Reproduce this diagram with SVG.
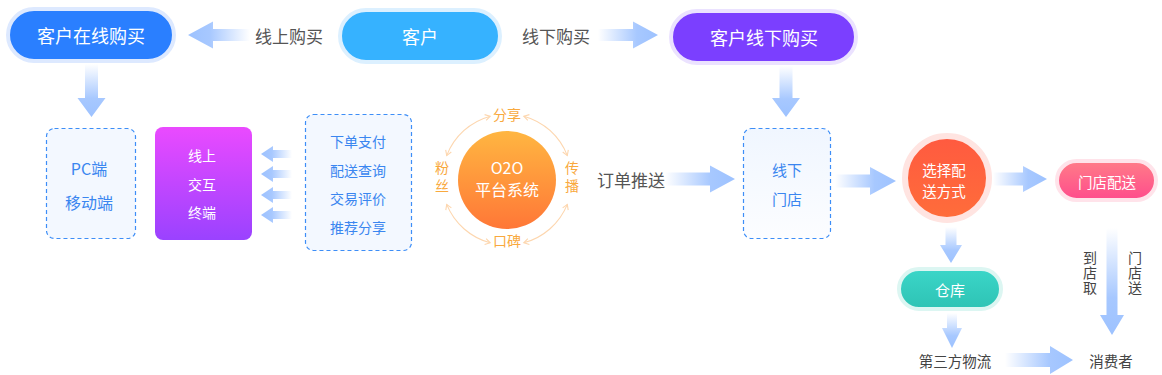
<svg xmlns="http://www.w3.org/2000/svg" width="1162" height="375" viewBox="0 0 1162 375">
<style>
text{font-family:"Noto Sans CJK SC","Noto Sans",sans-serif;dominant-baseline:central;text-anchor:middle}
.w{fill:#fff}
.lbl{fill:#555;font-size:17px}
.lbl2{fill:#444;font-size:14.5px}
.vert{fill:#444;font-size:14px;writing-mode:vertical-rl;letter-spacing:1px}
.blue{fill:#3a86f0}
.dash{fill:#f3f8ff;stroke:#3d8ef7;stroke-width:1.2;stroke-dasharray:4 3}
.ring{fill:none;stroke:#fdd6ae;stroke-width:1.1;marker-start:url(#chev);marker-end:url(#chev)}
.or{fill:#f9a93e;font-size:14px}
.ar{fill:url(#gr)}
.al{fill:url(#gl)}
.ad{fill:url(#gd)}
</style>
<defs>
<linearGradient id="gr" x1="0" y1="0" x2="1" y2="0"><stop offset="0" stop-color="#a7c8ff" stop-opacity="0"/><stop offset="0.65" stop-color="#a7c8ff"/><stop offset="1" stop-color="#9dc2ff"/></linearGradient>
<linearGradient id="gl" x1="1" y1="0" x2="0" y2="0"><stop offset="0" stop-color="#a7c8ff" stop-opacity="0"/><stop offset="0.65" stop-color="#a7c8ff"/><stop offset="1" stop-color="#9dc2ff"/></linearGradient>
<linearGradient id="gd" x1="0" y1="0" x2="0" y2="1"><stop offset="0" stop-color="#a7c8ff" stop-opacity="0"/><stop offset="0.65" stop-color="#a7c8ff"/><stop offset="1" stop-color="#9dc2ff"/></linearGradient>
<linearGradient id="gpurple" x1="0" y1="0" x2="0" y2="1"><stop offset="0" stop-color="#ea4aff"/><stop offset="1" stop-color="#9a42ff"/></linearGradient>
<linearGradient id="gorange" x1="0" y1="0" x2="0" y2="1"><stop offset="0" stop-color="#ffb641"/><stop offset="1" stop-color="#ff7737"/></linearGradient>
<linearGradient id="gred" x1="0" y1="0" x2="0" y2="1"><stop offset="0" stop-color="#ff5a40"/><stop offset="1" stop-color="#ff6d3a"/></linearGradient>
<linearGradient id="gpink" x1="0" y1="0" x2="0" y2="1"><stop offset="0" stop-color="#ff7c88"/><stop offset="1" stop-color="#ff4c8c"/></linearGradient>
<linearGradient id="gteal" x1="0" y1="0" x2="0" y2="1"><stop offset="0" stop-color="#3bd6c8"/><stop offset="1" stop-color="#2ec3b4"/></linearGradient>
<linearGradient id="gbox" x1="0" y1="0" x2="0" y2="1"><stop offset="0" stop-color="#f0f6ff"/><stop offset="1" stop-color="#fcfdff"/></linearGradient>
<marker id="chev" viewBox="0 0 8 8" refX="6" refY="4" markerWidth="8" markerHeight="8" markerUnits="userSpaceOnUse" orient="auto-start-reverse"><path d="M1,1 L6,4 L1,7" fill="none" stroke="#fdd6ae" stroke-width="1.1"/></marker>
</defs>

<g id="connectors">
<path class="al" d="M250,29 L213,29 L213,21.5 L188,35 L213,48.5 L213,41 L250,41 Z"/>
<path class="ar" d="M598,29 L633,29 L633,21.5 L658,35 L633,48.5 L633,41 L598,41 Z"/>
<path class="ad" d="M85,64 L85,98 L77.5,98 L91.5,117 L105.5,98 L98,98 L98,64 Z"/>
<path class="ad" d="M779.5,66 L779.5,98 L772,98 L786,117 L800,98 L792.5,98 L792.5,66 Z"/>
<path class="al" d="M292,150 L273,150 L273,146 L261,154 L273,162 L273,158 L292,158 Z"/>
<path class="al" d="M292,170 L273,170 L273,166 L261,174 L273,182 L273,178 L292,178 Z"/>
<path class="al" d="M292,191 L273,191 L273,187 L261,195 L273,203 L273,199 L292,199 Z"/>
<path class="al" d="M292,211 L273,211 L273,207 L261,215 L273,223 L273,219 L292,219 Z"/>
<path class="ar" d="M665,172.5 L710,172.5 L710,165.5 L735,179 L710,192.5 L710,185.5 L665,185.5 Z"/>
<path class="ar" d="M835,174.5 L870,174.5 L870,167 L896,181 L870,195 L870,187.5 L835,187.5 Z"/>
<path class="ar" d="M993,172.5 L1023,172.5 L1023,166 L1047,179 L1023,192 L1023,185.5 L993,185.5 Z"/>
<path class="ad" d="M945.5,227 L945.5,245 L940,245 L951,263 L962,245 L956.5,245 L956.5,227 Z"/>
<path class="ad" d="M947,313 L947,328 L942,328 L952,348 L962,328 L957,328 L957,313 Z"/>
<path class="ar" d="M1005,353 L1050,353 L1050,346 L1073,360 L1050,374 L1050,367 L1005,367 Z"/>
<path class="ad" d="M1106.5,228 L1106.5,315 L1100,315 L1112,335 L1124,315 L1117.5,315 L1117.5,228 Z"/>
<path class="ring" d="M523.8,116.2 A65,65 0 0 1 567.3,155.6"/>
<path class="ring" d="M567.3,204.4 A65,65 0 0 1 523.8,242.8"/>
<path class="ring" d="M490.2,242.8 A65,65 0 0 1 446.7,204.4"/>
<path class="ring" d="M446.7,155.6 A65,65 0 0 1 490.2,116.2"/>
</g>

<g id="edge-labels">
<text class="lbl" x="289" y="35">线上购买</text>
<text class="lbl" x="556" y="35">线下购买</text>
<text class="lbl" x="631" y="179">订单推送</text>
<text class="lbl2" x="955" y="360">第三方物流</text>
<text class="lbl2" x="1111" y="360">消费者</text>
<text class="vert" x="1090" y="273">到店取</text>
<text class="vert" x="1135" y="273">门店送</text>
</g>

<g id="node-online">
<rect x="8" y="9" width="166" height="52" rx="26" fill="#2a7fff" stroke="#dde9ff" stroke-width="4"/>
<text class="w" x="91" y="35" font-size="18">客户在线购买</text>
</g>
<g id="node-customer">
<rect x="340" y="10" width="160" height="52" rx="26" fill="#36b2ff" stroke="#dcf0ff" stroke-width="4"/>
<text class="w" x="420" y="36" font-size="18">客户</text>
</g>
<g id="node-offline">
<rect x="671" y="11" width="185" height="52" rx="26" fill="#7b3fff" stroke="#ebe2ff" stroke-width="4"/>
<text class="w" x="764" y="37" font-size="18">客户线下购买</text>
</g>

<g id="node-pc">
<rect class="dash" x="46.5" y="128.5" width="89" height="110" rx="8"/>
<text class="blue" x="89" y="168" font-size="16">PC端</text>
<text class="blue" x="89" y="202" font-size="16">移动端</text>
</g>
<g id="node-terminal">
<rect x="155" y="127" width="97" height="113" rx="8" fill="url(#gpurple)"/>
<text class="w" x="202" y="155" font-size="14">线上</text>
<text class="w" x="202" y="184" font-size="14">交互</text>
<text class="w" x="202" y="212" font-size="14">终端</text>
</g>
<g id="node-functions">
<rect class="dash" x="305.5" y="114.5" width="106" height="136" rx="8"/>
<text class="blue" x="358" y="141" font-size="14">下单支付</text>
<text class="blue" x="358" y="170" font-size="14">配送查询</text>
<text class="blue" x="358" y="198" font-size="14">交易评价</text>
<text class="blue" x="358" y="227" font-size="14">推荐分享</text>
</g>
<g id="node-o2o">
<circle cx="507" cy="180" r="49" fill="url(#gorange)"/>
<text class="w" x="507" y="167" font-size="16">O2O</text>
<text class="w" x="507" y="189" font-size="16">平台系统</text>
<text class="or" x="507" y="114">分享</text>
<text class="or" x="507" y="240">口碑</text>
<text class="or" x="442" y="167">粉</text>
<text class="or" x="442" y="185">丝</text>
<text class="or" x="572" y="167">传</text>
<text class="or" x="572" y="185">播</text>
</g>
<g id="node-store">
<rect x="743.5" y="128.5" width="87" height="110" rx="8" fill="url(#gbox)" stroke="#3d8ef7" stroke-width="1.2" stroke-dasharray="4 3"/>
<text class="blue" x="787" y="169" font-size="15">线下</text>
<text class="blue" x="787" y="198" font-size="15">门店</text>
</g>
<g id="node-choose">
<circle cx="947" cy="178" r="42" fill="url(#gred)" stroke="#ffe4e1" stroke-width="6"/>
<text class="w" x="944" y="169" font-size="14.5">选择配</text>
<text class="w" x="944" y="190" font-size="14.5">送方式</text>
</g>
<g id="node-delivery">
<rect x="1057" y="161" width="99" height="39" rx="19.5" fill="url(#gpink)" stroke="#ffe3ea" stroke-width="4"/>
<text class="w" x="1107" y="181" font-size="14.5">门店配送</text>
</g>
<g id="node-warehouse">
<rect x="899" y="269" width="102" height="40" rx="20" fill="url(#gteal)" stroke="#dcf6f2" stroke-width="4"/>
<text class="w" x="950" y="289" font-size="15">仓库</text>
</g>
</svg>
